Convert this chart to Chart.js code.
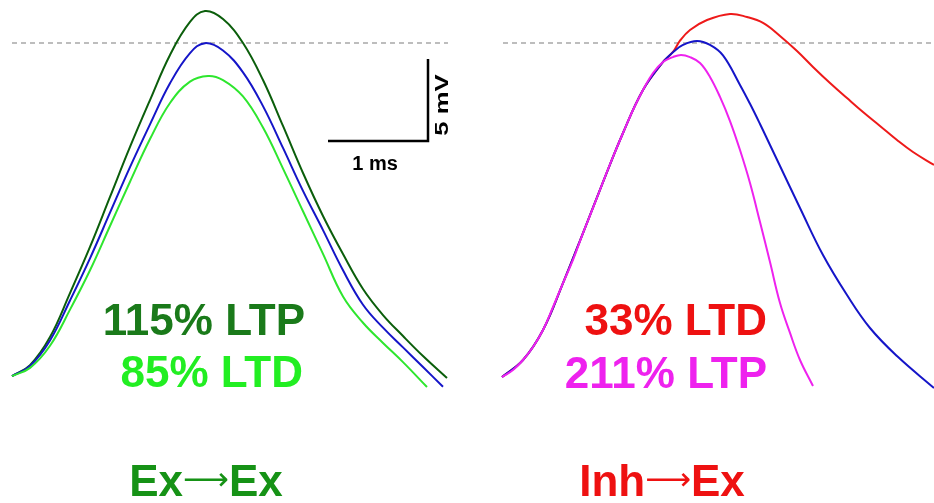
<!DOCTYPE html>
<html>
<head>
<meta charset="utf-8">
<script src="https://cdn.jsdelivr.net/npm/chart.js@4"></script>
<style>
  body { margin: 0; background: #fff; }
  #wrap { position: relative; width: 934px; height: 503px; font-family: "Liberation Sans", Arial, sans-serif; font-weight: bold; }
  #wrap canvas { position: absolute; left: 0; top: 0; }
  .lbl { position: absolute; font-size: 44px; line-height: 1; white-space: nowrap; }
  .right { text-align: right; }
  .center { text-align: center; transform: translateX(-50%); }
  .arr { font-family: "DejaVu Sans", sans-serif; font-weight: normal; font-size: 32px; line-height: 0; vertical-align: 6px; }
</style>
</head>
<body>
<div id="wrap">
  <canvas id="myChart" width="934" height="503"></canvas>
  <div class="lbl right" style="right:629px; top:298px; color:#1a7a1a;">115% LTP</div>
  <div class="lbl right" style="right:631px; top:350px; color:#22ee22;">85% LTD</div>
  <div class="lbl center" style="left:206px; top:459px; color:#169216;">Ex<span class="arr">⟶</span>Ex</div>
  <div class="lbl right" style="right:167px; top:298px; color:#ee1111;">33% LTD</div>
  <div class="lbl right" style="right:167px; top:351px; color:#ee22ee;">211% LTP</div>
  <div class="lbl center" style="left:662px; top:459px; color:#ee1111;">Inh<span class="arr">⟶</span>Ex</div>
  <div class="lbl center" style="left:375px; top:153px; font-size:20px; color:#000;">1 ms</div>
  <div class="lbl" style="left:441px; top:105px; font-size:19px; color:#000; transform:translate(-50%,-50%) rotate(-90deg) scaleX(1.35);">5 mV</div>
</div>
<script>
// time in ms from the start of each panel, voltage in mV
const leftOffset = 0.12;
const rightOffset = 5.02;

// Ex -> Ex
const exDarkT = [0, .18, .38, .58, .78, .98, 1.18, 1.38, 1.58, 1.78, 1.93, 2.11, 2.31, 2.51, 2.71, 2.91, 3.11, 3.31, 3.51, 3.71, 3.91, 4.11, 4.35];
const exDarkV = [.85, 1.52, 3.23, 5.91, 8.72, 11.77, 14.82, 17.68, 20.43, 22.44, 23.11, 22.62, 21.16, 18.90, 16.10, 13.23, 10.61, 8.29, 6.16, 4.57, 3.29, 2.07, .73];
const exBlueT = [0, .18, .38, .58, .78, .98, 1.18, 1.38, 1.58, 1.78, 1.93, 2.11, 2.31, 2.51, 2.71, 2.91, 3.11, 3.31, 3.51, 3.71, 3.91, 4.11, 4.31];
const exBlueV = [.85, 1.46, 3.02, 5.46, 8.03, 10.81, 13.59, 16.2, 18.7, 20.54, 21.15, 20.7, 19.37, 17.31, 14.76, 12.14, 9.75, 7.3, 5.2, 3.8, 2.6, 1.4, .2];
const exLightT = [0, .18, .38, .58, .78, .98, 1.18, 1.38, 1.58, 1.78, 1.96, 2.11, 2.31, 2.51, 2.71, 2.91, 3.11, 3.31, 3.51, 3.71, 3.91, 4.15];
const exLightV = [.85, 1.35, 2.7, 4.9, 7.3, 10.0, 12.7, 15.3, 17.5, 18.8, 19.15, 18.9, 17.9, 16.0, 13.5, 10.9, 8.3, 5.7, 4.1, 2.87, 1.7, .18];

// Inh -> Ex
const inhMagT = [0, .11, .21, .31, .41, .51, .61, .71, .81, .91, 1.01, 1.11, 1.21, 1.31, 1.41, 1.51, 1.61, 1.71, 1.79, 1.88, 1.98, 2.08, 2.18, 2.28, 2.38, 2.48, 2.58, 2.68, 2.78, 2.88, 2.98, 3.11];
const inhMagV = [.79, 1.22, 1.83, 2.62, 3.66, 5.06, 6.52, 7.93, 9.57, 11.10, 12.68, 14.21, 15.67, 17.07, 18.29, 19.33, 20.0, 20.30, 20.43, 20.30, 19.94, 19.09, 17.87, 16.40, 14.63, 12.62, 10.24, 7.80, 5.30, 3.48, 1.83, .24];
const inhBlueT = [0, .21, .41, .61, .81, 1.01, 1.21, 1.41, 1.61, 1.71, 1.81, 1.95, 2.08, 2.21, 2.38, 2.48, 2.58, 2.68, 2.78, 2.98, 3.21, 3.45, 3.68, 3.95, 4.32];
const inhBlueV = [.79, 1.83, 3.66, 6.52, 9.57, 12.68, 15.67, 18.29, 20.0, 20.6, 21.04, 21.28, 21.04, 20.40, 18.60, 17.45, 16.22, 14.94, 13.66, 11.10, 8.23, 5.79, 3.78, 2.07, .12];
const inhRedT = [0, .21, .41, .61, .81, 1.01, 1.21, 1.41, 1.61, 1.66, 1.72, 1.78, 1.88, 2.05, 2.28, 2.45, 2.61, 2.78, 2.95, 3.11, 3.28, 3.45, 3.61, 3.78, 3.95, 4.11, 4.32];
const inhRedV = [.79, 1.83, 3.66, 6.52, 9.57, 12.68, 15.67, 18.29, 20.0, 20.3, 20.7, 21.3, 21.95, 22.56, 22.93, 22.74, 22.38, 21.59, 20.67, 19.70, 18.72, 17.80, 16.95, 16.10, 15.24, 14.51, 13.72];

// dashed reference level (control peak)
const dashLevel = 21.16;
const leftDashT = [0, 4.36];
const rightDashT = [0.01, 4.32];

// scale bar: 1 ms, 5 mV
const barMs = 1;
const barMv = 5;
const barCornerT = 4.16;
const barBaseV = 15.18;

function pts(ts, vs, off) {
    return ts.map((t, i) => ({ x: t + off, y: vs[i] }));
}

function trace(ts, vs, off, color) {
    return {
        data: pts(ts, vs, off),
        borderColor: color,
        borderWidth: 2,
        tension: 0.4,
        pointRadius: 0
    };
}

function dash(ts, off) {
    return {
        data: ts.map(t => ({ x: t + off, y: dashLevel })),
        borderColor: '#a8a8a8',
        borderWidth: 1.5,
        borderDash: [5, 4],
        pointRadius: 0
    };
}

const scaleBar = {
    id: 'scaleBar',
    afterDatasetsDraw(chart) {
        const c = chart.ctx;
        const x = chart.scales.x, y = chart.scales.y;
        const cx = x.getPixelForValue(barCornerT + leftOffset);
        const lx = x.getPixelForValue(barCornerT - barMs + leftOffset);
        const by = y.getPixelForValue(barBaseV);
        const ty = y.getPixelForValue(barBaseV + barMv);
        c.save();
        c.strokeStyle = '#000';
        c.lineWidth = 2.5;
        c.beginPath();
        c.moveTo(lx, by);
        c.lineTo(cx, by);
        c.lineTo(cx, ty);
        c.stroke();
        c.restore();
    }
};

const ctx = document.getElementById('myChart');

new Chart(ctx, {
    type: 'line',
    data: {
        datasets: [
            trace(exLightT, exLightV, leftOffset, '#2ee62e'),
            trace(exBlueT, exBlueV, leftOffset, '#1515c8'),
            trace(exDarkT, exDarkV, leftOffset, '#0b5e0b'),
            trace(inhMagT, inhMagV, rightOffset, '#ee22ee'),
            trace(inhBlueT, inhBlueV, rightOffset, '#1515c8'),
            trace(inhRedT, inhRedV, rightOffset, '#ee1a1a'),
            dash(leftDashT, leftOffset),
            dash(rightDashT, rightOffset)
        ]
    },
    options: {
        responsive: false,
        animation: false,
        layout: { padding: 0 },
        plugins: { legend: { display: false }, tooltip: { enabled: false } },
        scales: {
            x: { type: 'linear', min: 0, max: 9.34, display: false },
            y: { min: -6.89, max: 23.78, display: false }
        }
    },
    plugins: [scaleBar]
});
</script>
</body>
</html>
